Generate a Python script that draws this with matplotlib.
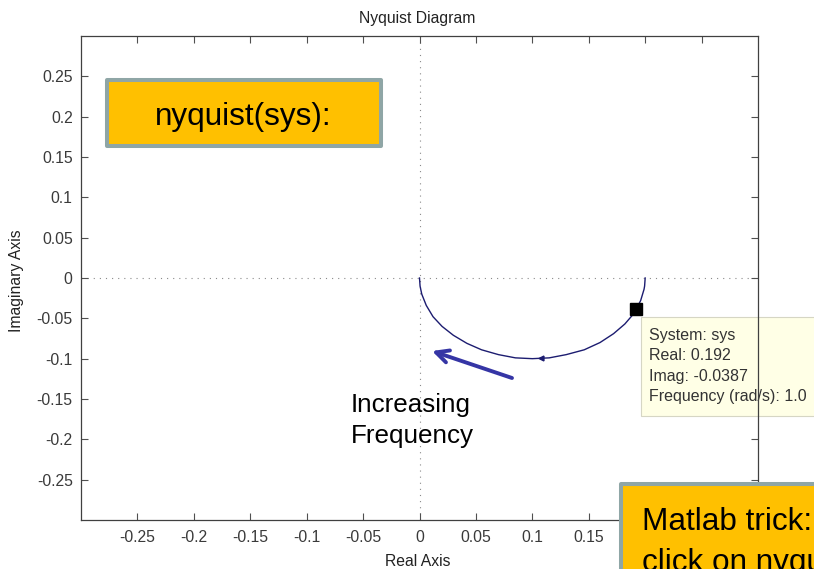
import matplotlib
matplotlib.use("Agg")
import matplotlib.pyplot as plt
from matplotlib.patches import Rectangle

plt.rcParams['font.family'] = ['Liberation Sans', 'DejaVu Sans']

# Nyquist locus of sys (positive frequencies, from w=0 at 0.2 toward the origin)
curve_real = [0.200, 0.1995, 0.199, 0.196, 0.190, 0.182, 0.172, 0.160, 0.146, 0.130,
              0.115, 0.100, 0.085, 0.070, 0.055, 0.042, 0.030, 0.020, 0.012,
              0.006, 0.002, 0.0005, 0.0]
curve_imag = [0.000, -0.010, -0.014, -0.028, -0.044, -0.057, -0.069, -0.080, -0.089, -0.095,
              -0.099, -0.100, -0.099, -0.095, -0.089, -0.081, -0.071, -0.060, -0.048,
              -0.034, -0.020, -0.010, 0.000]

# Data-tip readout
tip_system = "sys"
tip_real = 0.192
tip_imag = -0.0387
tip_freq = 1.0

tick_values = [-0.25, -0.2, -0.15, -0.1, -0.05, 0, 0.05, 0.1, 0.15, 0.2, 0.25]
y_tick_labels = ['-0.25', '-0.2', '-0.15', '-0.1', '-0.05', '0', '0.05', '0.1', '0.15', '0.2', '0.25']
# the last two x labels sit under the lower callout box
x_tick_labels = ['-0.25', '-0.2', '-0.15', '-0.1', '-0.05', '0', '0.05', '0.1', '0.15', '', '']

W, H = 814, 569
fig = plt.figure(figsize=(W / 100, H / 100), dpi=100)
fig.patch.set_facecolor('white')


def fx(px):
    return px / W


def fy(py):
    return 1 - py / H


ax = fig.add_axes([fx(81), fy(520), fx(758) - fx(81), fy(36) - fy(520)])
ax.set_xlim(-0.3, 0.3)
ax.set_ylim(-0.3, 0.3)

spine_col = '#404040'
for s in ax.spines.values():
    s.set_color(spine_col)
    s.set_linewidth(0.9)
    s.set_zorder(10)

ax.set_xticks(tick_values)
ax.set_xticklabels(x_tick_labels)
ax.set_yticks(tick_values)
ax.set_yticklabels(y_tick_labels)
ax.tick_params(direction='in', top=True, right=True, length=5, width=0.8,
               color='#505050', labelcolor='#3a3a3a', labelsize=11.3)
ax.tick_params(axis='x', pad=7)
ax.tick_params(axis='y', pad=6)

# Dotted zero lines
dot = (0, (1, 4.5))
ax.axhline(0, color='#8a8a8a', lw=0.8, ls=dot, zorder=1)
ax.axvline(0, color='#8a8a8a', lw=0.8, ls=dot, zorder=1)

# Nyquist curve
ax.plot(curve_real, curve_imag, color='#1c1c70', lw=1.0, zorder=2)

# small direction arrowhead at the middle of the locus
mid = len(curve_real) // 2 - 1
ax.plot((curve_real[mid] + curve_real[mid + 1]) / 2,
        (curve_imag[mid] + curve_imag[mid + 1]) / 2,
        marker='<', ms=3.5, color='#1c1c70', zorder=3)

# Data-tip marker
ax.plot(tip_real, tip_imag, marker='s', ms=8.6, color='black', zorder=4)

# Data-tip box (sits under the axes frame)
tip_box = Rectangle((fx(641), fy(416)), fx(830) - fx(641), fy(317) - fy(416),
                    transform=fig.transFigure, facecolor='#ffffe6', edgecolor='#d6d6c4',
                    lw=0.8, zorder=5, clip_on=False)
ax.add_patch(tip_box)
tip_lines = [f"System: {tip_system}", f"Real: {tip_real:.3f}",
             f"Imag: {tip_imag:.4f}", f"Frequency (rad/s): {tip_freq:.1f}"]
for i, line in enumerate(tip_lines):
    ax.text(fx(649), fy(340 + 20.4 * i), line, transform=fig.transFigure,
            fontsize=11.5, color='#333333', va='baseline', ha='left',
            zorder=6, clip_on=False)

# Title and axis labels
fig.text(fx(417), fy(18), 'Nyquist Diagram', ha='center', va='center',
         fontsize=11.3, color='#222222')
fig.text(fx(418), fy(562), 'Real Axis', ha='center', va='center',
         fontsize=11.3, color='#222222')
fig.text(fx(17), fy(281), 'Imaginary Axis', ha='center', va='center',
         rotation=90, fontsize=11.3, color='#222222')

# Increasing-frequency annotation
ax.annotate('', xy=(fx(432), fy(351)), xycoords='figure fraction',
            xytext=(fx(512), fy(378)), textcoords='figure fraction',
            arrowprops=dict(arrowstyle='->,head_length=0.9,head_width=0.45',
                            color='#3535a5', lw=2.8, shrinkA=0, shrinkB=0))
fig.text(fx(351), fy(412), 'Increasing', fontsize=18.7, color='black', va='baseline')
fig.text(fx(351), fy(443), 'Frequency', fontsize=18.7, color='black', va='baseline')

# Callout boxes
box_fill = '#ffc000'
box_edge = '#8fa6a6'
b1 = Rectangle((fx(107), fy(146)), fx(381) - fx(107), fy(80) - fy(146),
               transform=fig.transFigure, facecolor=box_fill, edgecolor=box_edge,
               lw=2.9, joinstyle='round', zorder=5)
fig.add_artist(b1)
fig.text(fx(243.5), fy(125), 'nyquist(sys):', ha='center', va='baseline',
         fontsize=22.7, color='black', zorder=6)

b2 = Rectangle((fx(621), fy(600)), fx(830) - fx(621), fy(484) - fy(600),
               transform=fig.transFigure, facecolor=box_fill, edgecolor=box_edge,
               lw=2.9, joinstyle='round', zorder=5)
fig.add_artist(b2)
fig.text(fx(642), fy(530), 'Matlab trick:', ha='left', va='baseline',
         fontsize=22.7, color='black', zorder=6)
fig.text(fx(642), fy(571), 'click on nyquist', ha='left', va='baseline',
         fontsize=22.7, color='black', zorder=6)

fig.savefig('out.png', dpi=100)
